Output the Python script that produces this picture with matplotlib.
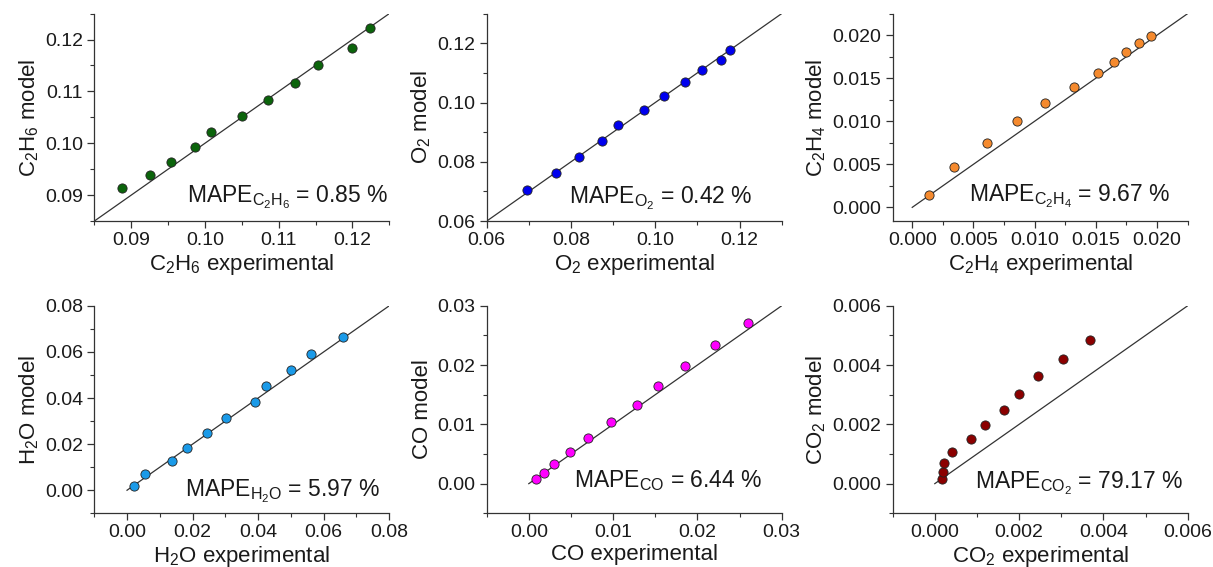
import numpy as np
import matplotlib.pyplot as plt
from matplotlib.ticker import MultipleLocator, FormatStrFormatter

plt.rcParams['font.family'] = ['Liberation Sans', 'DejaVu Sans']
plt.rcParams['mathtext.default'] = 'regular'

# experimental vs model mole fractions for each species
c2h6_exp = [0.0888, 0.0926, 0.0954, 0.0987, 0.1008, 0.1050, 0.1085, 0.1122, 0.1153, 0.1199, 0.1224]
c2h6_mod = [0.0913, 0.0938, 0.0964, 0.0993, 0.1022, 0.1052, 0.1084, 0.1116, 0.1150, 0.1184, 0.1222]

o2_exp = [0.0696, 0.0764, 0.0818, 0.0873, 0.0912, 0.0974, 0.1022, 0.1071, 0.1111, 0.1155, 0.1178]
o2_mod = [0.0704, 0.0761, 0.0818, 0.0871, 0.0925, 0.0975, 0.1023, 0.1068, 0.1110, 0.1144, 0.1176]

c2h4_exp = [0.00141, 0.00338, 0.00608, 0.00857, 0.01086, 0.01322, 0.01514, 0.01646, 0.01749, 0.01854, 0.01949]
c2h4_mod = [0.00143, 0.00471, 0.00753, 0.01000, 0.01212, 0.01398, 0.01556, 0.01691, 0.01807, 0.01907, 0.01992]

h2o_exp = [0.00212, 0.00555, 0.01372, 0.01826, 0.02441, 0.03026, 0.03894, 0.04237, 0.05014, 0.05609, 0.06578]
h2o_mod = [0.00174, 0.00696, 0.01261, 0.01841, 0.02478, 0.03130, 0.03812, 0.04507, 0.05203, 0.05913, 0.06638]

co_exp = [0.00087, 0.00177, 0.00303, 0.00491, 0.00700, 0.00979, 0.01286, 0.01533, 0.01852, 0.02206, 0.02603]
co_mod = [0.00085, 0.00181, 0.00333, 0.00531, 0.00768, 0.01034, 0.01328, 0.01644, 0.01983, 0.02333, 0.02706]

co2_exp = [0.00018, 0.00019, 0.00023, 0.00042, 0.00086, 0.00118, 0.00165, 0.00199, 0.00246, 0.00304, 0.00369]
co2_mod = [0.00017, 0.00041, 0.00071, 0.00108, 0.00151, 0.00198, 0.00250, 0.00304, 0.00362, 0.00421, 0.00484]

species = [r'C$_2$H$_6$', r'O$_2$', r'C$_2$H$_4$', r'H$_2$O', 'CO', r'CO$_2$']
mape_sub = [r'C_2H_6', r'O_2', r'C_2H_4', r'H_2O', r'CO', r'CO_2']
mape_vals = ['0.85', '0.42', '9.67', '5.97', '6.44', '79.17']
colors = ['#0b640b', '#0000ee', '#f58a2e', '#1a9ae8', '#ff00ff', '#8b0000']

exp_data = [c2h6_exp, o2_exp, c2h4_exp, h2o_exp, co_exp, co2_exp]
mod_data = [c2h6_mod, o2_mod, c2h4_mod, h2o_mod, co_mod, co2_mod]

limits = [(0.085, 0.125), (0.06, 0.13), (-0.0016, 0.0225),
          (-0.01, 0.08), (-0.005, 0.03), (-0.001, 0.006)]
major = [0.01, 0.02, 0.005, 0.02, 0.01, 0.002]
minor = [0.005, 0.01, 0.0025, 0.01, 0.005, 0.001]
fmts = ['%.2f', '%.2f', '%.3f', '%.2f', '%.2f', '%.3f']
first_tick = [0.09, 0.06, 0.0, 0.0, 0.0, 0.0]

# MAPE label anchor (axes fraction)
text_pos = [(0.995, 0.092), (0.90, 0.087), (0.94, 0.093),
            (0.97, 0.08), (0.933, 0.125), (0.983, 0.12)]

fig = plt.figure(figsize=(12.13, 5.67), dpi=100)
lefts = [0.0777, 0.4012, 0.7359]
bottoms = [0.610, 0.0947]
w, h = 0.2432, 0.366

for i in range(6):
    r, c = divmod(i, 3)
    ax = fig.add_axes([lefts[c], bottoms[r], w, h])
    lo, hi = limits[i]
    ax.set_xlim(lo, hi)
    ax.set_ylim(lo, hi)

    start = max(lo, 0.0)
    ax.plot([start, hi], [start, hi], color='#333333', lw=0.9, zorder=2)
    ax.scatter(exp_data[i], mod_data[i], s=44, color=colors[i],
               edgecolors='#222222', linewidths=0.6, zorder=3, clip_on=False)

    ticks = np.arange(first_tick[i], hi + 1e-9, major[i])
    ax.set_xticks(ticks)
    ax.set_yticks(ticks)
    ax.xaxis.set_minor_locator(MultipleLocator(minor[i]))
    ax.yaxis.set_minor_locator(MultipleLocator(minor[i]))
    ax.xaxis.set_major_formatter(FormatStrFormatter(fmts[i]))
    ax.yaxis.set_major_formatter(FormatStrFormatter(fmts[i]))

    for side in ['top', 'right']:
        ax.spines[side].set_visible(False)
    for side in ['left', 'bottom']:
        ax.spines[side].set_color('#333333')
        ax.spines[side].set_linewidth(0.9)
    ax.tick_params(which='major', direction='out', length=5, width=0.9,
                   color='#333333', labelsize=14, labelcolor='#1a1a1a', pad=3)
    ax.tick_params(which='minor', direction='out', length=3, width=0.8, color='#333333')

    ax.set_xlabel(species[i] + ' experimental', fontsize=16, color='#1a1a1a', labelpad=2)
    ax.set_ylabel(species[i] + ' model', fontsize=16, color='#1a1a1a', labelpad=3)

    tx, ty = text_pos[i]
    ax.text(tx, ty, r'MAPE$_{' + mape_sub[i] + r'}$ = ' + mape_vals[i] + ' %',
            transform=ax.transAxes, ha='right', va='baseline',
            fontsize=16.5, color='#1a1a1a')

fig.savefig('out.png', dpi=100)
